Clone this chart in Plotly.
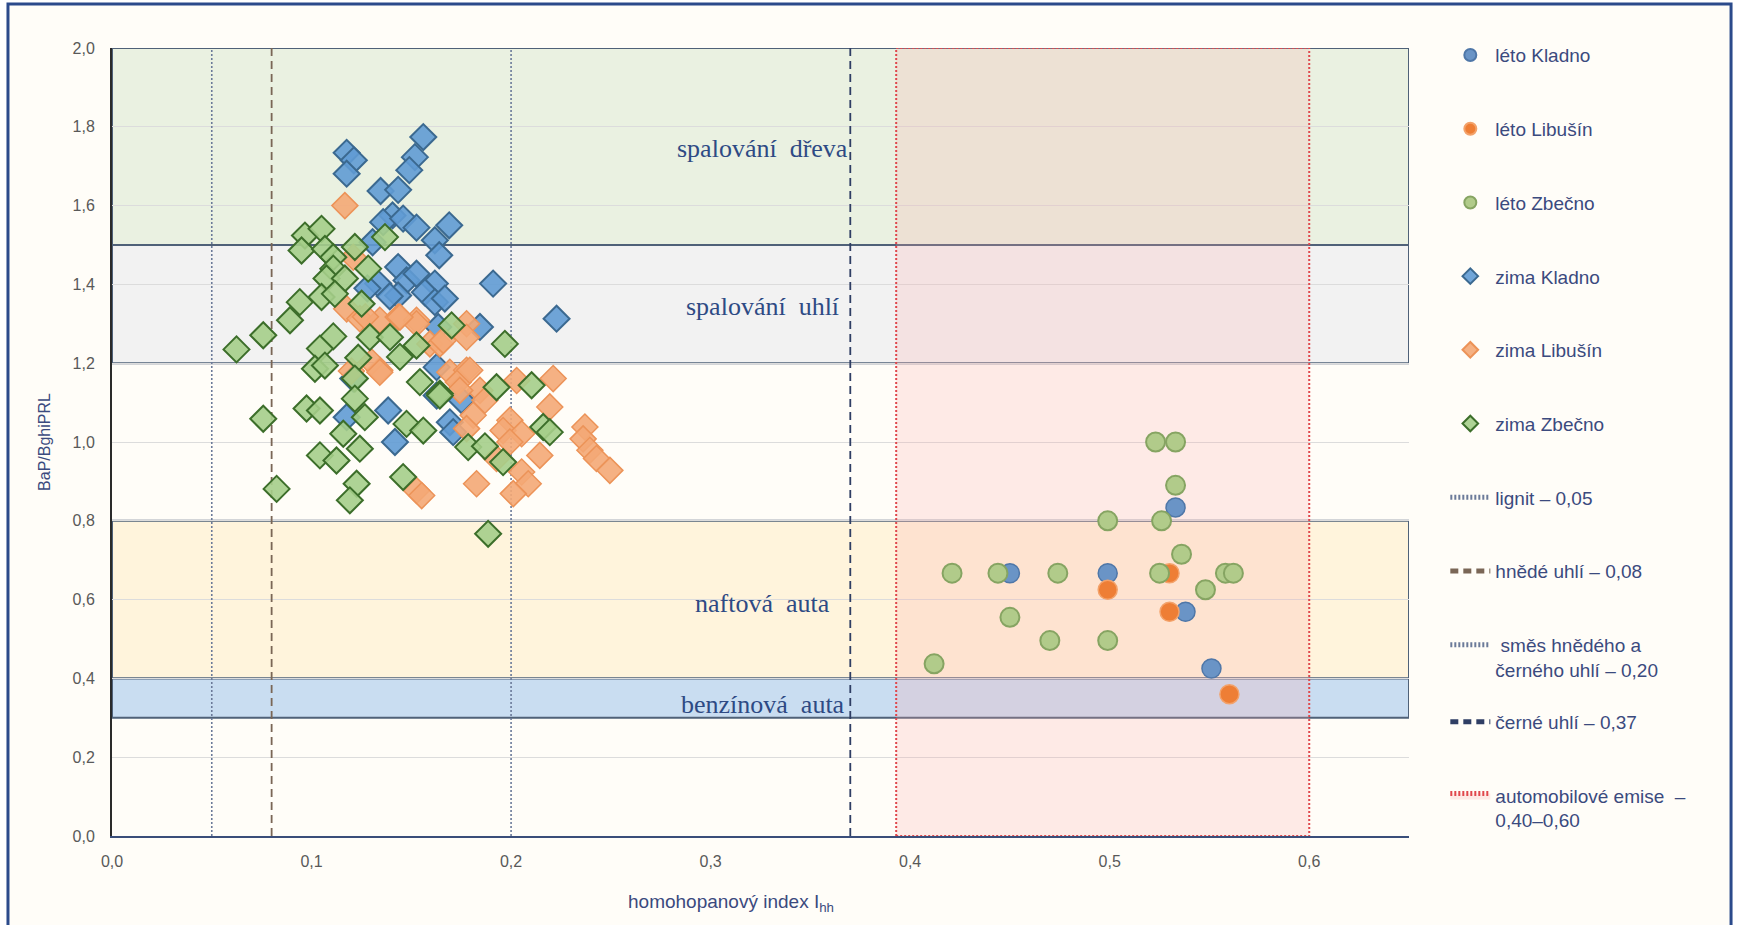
import plotly.graph_objects as go

# ---------------- data ----------------
leto_kladno_x = [0.533, 0.450, 0.499, 0.538, 0.551]
leto_kladno_y = [0.834, 0.667, 0.667, 0.569, 0.425]

leto_libusin_x = [0.530, 0.499, 0.530, 0.560]
leto_libusin_y = [0.667, 0.625, 0.569, 0.360]

leto_zbecno_x = [0.523, 0.533, 0.533, 0.499, 0.526, 0.536, 0.421, 0.444, 0.474, 0.525,
                 0.558, 0.562, 0.548, 0.450, 0.470, 0.499, 0.412]
leto_zbecno_y = [1.000, 1.000, 0.890, 0.800, 0.800, 0.715, 0.667, 0.667, 0.667, 0.667,
                 0.667, 0.667, 0.625, 0.555, 0.496, 0.496, 0.437]

zima_kladno_x = [0.1176, 0.1212, 0.1176, 0.1560, 0.1518, 0.1490, 0.1346, 0.1434, 0.1406, 0.1359,
                 0.1459, 0.1526, 0.1306, 0.1690, 0.1618, 0.1640, 0.1434, 0.1476, 0.1526, 0.1334,
                 0.1434, 0.1910, 0.1618, 0.1568, 0.1618, 0.1668, 0.2228, 0.1844, 0.1635, 0.1627,
                 0.1752, 0.1693, 0.1710, 0.1627, 0.1176, 0.1384, 0.1418, 0.1209, 0.1392, 0.1280]
zima_kladno_y = [1.734, 1.715, 1.681, 1.774, 1.723, 1.690, 1.637, 1.640, 1.575, 1.558,
                 1.567, 1.544, 1.507, 1.550, 1.512, 1.474, 1.444, 1.410, 1.427, 1.402,
                 1.372, 1.402, 1.402, 1.380, 1.355, 1.364, 1.313, 1.292, 1.292, 1.190,
                 1.106, 1.050, 1.025, 1.118, 1.063, 1.080, 1.000, 1.161, 1.370, 1.390]

zima_libusin_x = [0.1167, 0.1209, 0.1176, 0.1242, 0.1342, 0.1434, 0.1526, 0.1777, 0.1777, 0.1593,
                  0.1643, 0.1660, 0.1342, 0.1301, 0.1693, 0.1777, 0.1735, 0.1844, 0.1200, 0.1342,
                  0.1526, 0.1552, 0.2028, 0.2211, 0.1869, 0.1743, 0.1810, 0.2194, 0.1994, 0.1960,
                  0.2053, 0.1994, 0.1777, 0.2370, 0.2361, 0.2395, 0.2428, 0.2495, 0.2144, 0.1927,
                  0.2053, 0.2086, 0.2011, 0.1827, 0.1526, 0.1793, 0.1443, 0.1270]
zima_libusin_y = [1.600, 1.469, 1.338, 1.313, 1.309, 1.317, 1.309, 1.300, 1.266, 1.249,
                  1.249, 1.258, 1.182, 1.203, 1.177, 1.182, 1.152, 1.131, 1.180, 1.177,
                  0.877, 0.864, 1.156, 1.161, 1.106, 1.131, 1.068, 1.089, 1.055, 1.029,
                  1.021, 1.000, 1.034, 1.038, 1.008, 0.979, 0.958, 0.928, 0.966, 0.958,
                  0.924, 0.894, 0.869, 0.894, 1.300, 1.182, 1.317, 1.318]

zima_zbecno_x = [0.0967, 0.1050, 0.0950, 0.1067, 0.1109, 0.1217, 0.1368, 0.1109, 0.1284, 0.1075,
                 0.1167, 0.1050, 0.1117, 0.0941, 0.0892, 0.0758, 0.1251, 0.0624, 0.1109, 0.1042,
                 0.1017, 0.1067, 0.1292, 0.1393, 0.1234, 0.1443, 0.1526, 0.1702, 0.1217, 0.1217,
                 0.1543, 0.1643, 0.1927, 0.0975, 0.1042, 0.0758, 0.1267, 0.1159, 0.1476, 0.1560,
                 0.1242, 0.1042, 0.1125, 0.1459, 0.1226, 0.1192, 0.0825, 0.1969, 0.2103, 0.2161,
                 0.2194, 0.1785, 0.1869, 0.1960, 0.1885, 0.1643]
zima_zbecno_y = [1.524, 1.541, 1.486, 1.490, 1.469, 1.495, 1.520, 1.440, 1.440, 1.415,
                 1.415, 1.368, 1.376, 1.355, 1.309, 1.271, 1.351, 1.235, 1.268, 1.237,
                 1.186, 1.194, 1.266, 1.266, 1.214, 1.216, 1.245, 1.296, 1.161, 1.110,
                 1.152, 1.123, 1.139, 1.085, 1.080, 1.059, 1.063, 1.021, 1.046, 1.029,
                 0.983, 0.966, 0.953, 0.911, 0.894, 0.852, 0.881, 1.249, 1.144, 1.038,
                 1.025, 0.987, 0.989, 0.949, 0.767, 1.118]

# reference lines (x value) and labels
ref_line_x = [0.05, 0.08, 0.20, 0.37]
ref_line_names = ["lignit – 0,05", "hnědé uhlí – 0,08",
                  " směs hnědého a<br>černého uhlí – 0,20", "černé uhlí – 0,37"]

# automobile emission range
auto_x = [0.393, 0.60]
auto_name = "automobilové emise  –<br>0,40–0,60"

# source bands (y ranges) and labels
band_y0 = [1.5, 1.2, 0.4, 0.3]
band_y1 = [2.0, 1.5, 0.8, 0.4]
band_labels = ["spalování  dřeva", "spalování  uhlí", "naftová  auta", "benzínová  auta"]
band_label_y = [1.746, 1.344, 0.589, 0.335]

x_ticks = [0.0, 0.1, 0.2, 0.3, 0.4, 0.5, 0.6]
x_ticklabels = ["0,0", "0,1", "0,2", "0,3", "0,4", "0,5", "0,6"]
y_ticks = [0.0, 0.2, 0.4, 0.6, 0.8, 1.0, 1.2, 1.4, 1.6, 1.8, 2.0]
y_ticklabels = ["0,0", "0,2", "0,4", "0,6", "0,8", "1,0", "1,2", "1,4", "1,6", "1,8", "2,0"]
x_title = "homohopanový index I<sub>hh</sub>"
y_title = "BaP/BghiPRL"

# ---------------- styles ----------------
X_MAX = 0.65
band_fill = ["#EAF1E1", "#F2F2F2", "#FFF4DC", "#C9DDF1"]
band_edge = "#4F6178"
text_col = "#3B4A7E"
tick_col = "#595959"
label_col = "#2E4A84"

fig = go.Figure()

# automobile emission rectangle (trace so it appears in legend)
fig.add_trace(go.Scatter(
    x=[auto_x[0], auto_x[1], auto_x[1], auto_x[0], auto_x[0]],
    y=[0, 0, 2.0, 2.0, 0],
    mode="lines", fill="toself", fillcolor="rgba(250,170,170,0.22)",
    line=dict(color="#E0474C", width=2, dash="2px,2px"),
    name=auto_name, legend="legend2", legendrank=11, hoverinfo="skip"))

line_styles = [
    dict(color="#6B7A99", width=1.6, dash="2px,2px"),
    dict(color="#7A6656", width=1.8, dash="8px,5px"),
    dict(color="#6B7A99", width=1.6, dash="2px,2px"),
    dict(color="#2F3E64", width=1.8, dash="8px,5px"),
]
for i, (xv, nm) in enumerate(zip(ref_line_x, ref_line_names)):
    fig.add_trace(go.Scatter(
        x=[xv, xv], y=[0, 2.0], mode="lines", line=line_styles[i], name=nm,
        legend="legend2" if i == 3 else "legend", legendrank=7 + i, hoverinfo="skip"))

series = [
    ("léto Kladno", leto_kladno_x, leto_kladno_y, "circle", "#6A94C6", "#4F77A8", 1.5),
    ("léto Libušín", leto_libusin_x, leto_libusin_y, "circle", "#EE7E35", "#F3A26A", 1.5),
    ("léto Zbečno", leto_zbecno_x, leto_zbecno_y, "circle", "#B1CB8A", "#86A462", 2),
    ("zima Kladno", zima_kladno_x, zima_kladno_y, "diamond", "rgba(96,155,212,0.9)", "#3B6990", 2),
    ("zima Libušín", zima_libusin_x, zima_libusin_y, "diamond", "rgba(244,168,118,0.9)", "#EC9358", 1.5),
    ("zima Zbečno", zima_zbecno_x, zima_zbecno_y, "diamond", "rgba(165,206,138,0.9)", "#3C6E2A", 2),
]
for k, (nm, xs, ys, sym, fc, lc, lw) in enumerate(series):
    fig.add_trace(go.Scatter(
        x=xs, y=ys, mode="markers", name=nm, legend="legend", legendrank=1 + k,
        marker=dict(symbol=sym, size=19 if sym == "circle" else 20, color=fc,
                    line=dict(color=lc, width=lw))))

# bands as shapes
shapes = []
for y0, y1, fc in zip(band_y0, band_y1, band_fill):
    shapes.append(dict(type="rect", xref="x", yref="y", x0=0, x1=X_MAX, y0=y0, y1=y1,
                       fillcolor=fc, line=dict(color=band_edge, width=2), layer="below"))
# outer frame and background
shapes.append(dict(type="rect", xref="paper", yref="paper", x0=-0.0802, x1=1.2483,
                   y0=-0.14, y1=1.0558, fillcolor="#FFFDF8",
                   line=dict(color="#2B4A8B", width=3), layer="below"))

annotations = []
for lab, yv in zip(band_labels, band_label_y):
    annotations.append(dict(x=0.326, y=yv, xref="x", yref="y", text=lab, showarrow=False,
                            font=dict(family="Liberation Serif", size=26, color=label_col)))
# x axis title (offset left of centre as in the original)
annotations.append(dict(x=0.477, y=-0.085, xref="paper", yref="paper", text=x_title,
                        showarrow=False, yanchor="middle",
                        font=dict(family="Liberation Sans", size=19, color=text_col)))

fig.update_layout(
    width=1740, height=925,
    margin=dict(l=112, r=331, t=48, b=89),
    paper_bgcolor="#FFFFFF", plot_bgcolor="#FFFFFF",
    font=dict(family="Liberation Sans", color=tick_col),
    shapes=shapes, annotations=annotations,
    xaxis=dict(range=[0, X_MAX], tickvals=x_ticks, ticktext=x_ticklabels,
               showgrid=False, zeroline=False, showline=True, linecolor="#3A4E7A", linewidth=2,
               ticks="", ticklabelstandoff=10, tickfont=dict(size=16, color=tick_col)),
    yaxis=dict(range=[0, 2.0], tickvals=y_ticks, ticktext=y_ticklabels,
               showgrid=True, gridcolor="#DCDCDC", gridwidth=1, zeroline=False,
               showline=True, linecolor="#2A2A2A", linewidth=2,
               ticks="", ticklabelstandoff=12, tickfont=dict(size=16, color=tick_col),
               title=dict(text=y_title, standoff=18, font=dict(size=16, color=text_col))),
    legend=dict(x=1.028, y=1.015, xanchor="left", yanchor="top", bgcolor="rgba(0,0,0,0)",
                font=dict(size=19, color=text_col), tracegroupgap=46, valign="top",
                itemsizing="constant", traceorder="grouped", itemwidth=40, maxheight=900),
    legend2=dict(x=1.028, y=0.169, xanchor="left", yanchor="top", bgcolor="rgba(0,0,0,0)",
                 font=dict(size=19, color=text_col), tracegroupgap=46, valign="top",
                 itemsizing="constant", traceorder="grouped", itemwidth=40, maxheight=900),
    showlegend=True,
)
# every legend item in its own group for spacing
for i, tr in enumerate(fig.data):
    tr.legendgroup = "g%d" % i

fig.write_html("out.html", config={"displayModeBar": False},
               post_script="document.body.style.margin='0';document.body.style.overflow='hidden';")
